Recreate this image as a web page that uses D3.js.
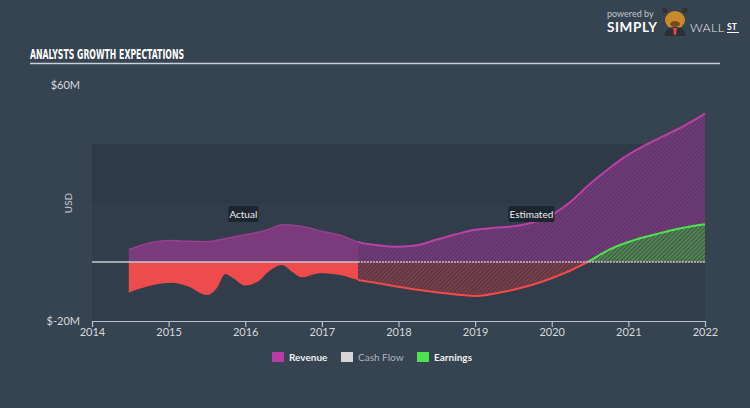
<!DOCTYPE html>
<html><head><meta charset="utf-8">
<script src="https://cdnjs.cloudflare.com/ajax/libs/d3/7.8.5/d3.min.js"></script>
<style>
html,body{margin:0;padding:0;background:#364350;}
svg{display:block;}
</style></head>
<body>
<script>
// ---- data ----
const xTickYears = [2014, 2015, 2016, 2017, 2018, 2019, 2020, 2021, 2022];
const yTickValues = [-20, 60];
const actualEnd = 2017.47;
const revenueDates  = [2014.48, 2014.8, 2015.0, 2015.25, 2015.5, 2015.75, 2016.0, 2016.25, 2016.5, 2016.75, 2017.0, 2017.25, 2017.47, 2017.75, 2018.0, 2018.25, 2018.5, 2018.75, 2019.0, 2019.25, 2019.5, 2019.75, 2020.0, 2020.25, 2020.5, 2020.75, 2021.0, 2021.25, 2021.5, 2021.75, 2022.0];
const revenueValues = [4.2, 6.7, 7.3, 7.0, 6.9, 8.0, 9.2, 10.6, 12.6, 12.0, 10.4, 9.0, 6.8, 5.6, 5.2, 5.7, 7.6, 9.4, 10.9, 11.6, 12.1, 13.4, 16.0, 20.5, 26.5, 31.8, 36.4, 40.0, 43.2, 46.5, 50.3];
const earningsDates  = [2014.48, 2014.83, 2015.03, 2015.25, 2015.5, 2015.63, 2015.74, 2015.84, 2016.0, 2016.16, 2016.33, 2016.48, 2016.61, 2016.74, 2016.97, 2017.24, 2017.47, 2017.7, 2018.0, 2018.57, 2019.0, 2019.43, 2020.0, 2020.47, 2020.75, 2021.0, 2021.4, 2021.7, 2022.0];
const earningsValues = [-10.3, -7.6, -7.0, -8.2, -11.2, -8.8, -4.1, -5.4, -8.0, -6.7, -2.7, -1.0, -3.3, -5.2, -3.8, -4.4, -6.1, -7.0, -8.4, -10.5, -11.5, -9.8, -5.5, 0, 4.2, 6.8, 9.7, 11.5, 12.8];
const legendItems = ["Revenue", "Cash Flow", "Earnings"];
const legendColors = ["#b83ca3", "#d6d6d6", "#4ee24e"];

const W = 750, H = 408;
const svg = d3.select("body").append("svg").attr("width", W).attr("height", H);
svg.append("rect").attr("width", W).attr("height", H).attr("fill", "#364350");

const x = d3.scaleLinear().domain([2014, 2022]).range([92, 705]);
const y = d3.scaleLinear().domain([-20, 60]).range([321, 85]);

const defs = svg.append("defs");
function hatch(id, bg, stripe, sw) {
  const p = defs.append("pattern").attr("id", id).attr("patternUnits", "userSpaceOnUse")
    .attr("width", 3).attr("height", 3).attr("patternTransform", "rotate(45)");
  p.append("rect").attr("width", 3).attr("height", 3).attr("fill", bg);
  p.append("line").attr("x1", 1).attr("y1", 0).attr("x2", 1).attr("y2", 3)
    .attr("stroke", stripe).attr("stroke-width", sw);
}
hatch("hRev", "#5c3466", "#7e4084", 1.2);
hatch("hNeg", "#54343f", "#8e4652", 1.2);
hatch("hPos", "#3d5644", "#5fa45f", 1.2);

function clip(id, x0, x1, y0, y1) {
  defs.append("clipPath").attr("id", id).append("rect")
    .attr("x", x0).attr("y", y0).attr("width", x1 - x0).attr("height", y1 - y0);
}
clip("cAct", 0, x(actualEnd), 0, H);
clip("cEst", x(actualEnd), W, 0, H);
clip("cPos", 0, W, 0, y(0));
clip("cNeg", 0, W, y(0), H);

// plot background bands
svg.append("rect").attr("x", x(2014)).attr("width", x(2022) - x(2014))
  .attr("y", y(20)).attr("height", y(-20) - y(20)).attr("fill", "#313d4a");
svg.append("rect").attr("x", x(2014)).attr("width", x(2022) - x(2014))
  .attr("y", y(40)).attr("height", y(20) - y(40)).attr("fill", "#2e3a46");

const rev = revenueDates.map((d, i) => [d, revenueValues[i]]);
const earn = earningsDates.map((d, i) => [d, earningsValues[i]]);
const curve = d3.curveMonotoneX;
const area = d3.area().x(d => x(d[0])).y0(y(0)).y1(d => y(d[1])).curve(curve);
const line = d3.line().x(d => x(d[0])).y(d => y(d[1])).curve(curve);

// revenue
svg.append("path").attr("d", area(rev)).attr("fill", "#7b3a7b").attr("clip-path", "url(#cAct)");
svg.append("path").attr("d", line(rev)).attr("fill", "none").attr("stroke", "#96408f").attr("stroke-width", 1.5).attr("clip-path", "url(#cAct)");
svg.append("path").attr("d", area(rev)).attr("fill", "url(#hRev)").attr("clip-path", "url(#cEst)");
svg.append("path").attr("d", line(rev)).attr("fill", "none").attr("stroke", "#bd40a8").attr("stroke-width", 2).attr("clip-path", "url(#cEst)");

// earnings
const gNeg = svg.append("g").attr("clip-path", "url(#cNeg)");
gNeg.append("path").attr("d", area(earn)).attr("fill", "#ee4c4c").attr("clip-path", "url(#cAct)");
gNeg.append("path").attr("d", area(earn)).attr("fill", "url(#hNeg)").attr("clip-path", "url(#cEst)");
gNeg.append("path").attr("d", line(earn)).attr("fill", "none").attr("stroke", "#f04a4a").attr("stroke-width", 2).attr("clip-path", "url(#cEst)");
const gPos = svg.append("g").attr("clip-path", "url(#cPos)");
gPos.append("path").attr("d", area(earn)).attr("fill", "url(#hPos)").attr("clip-path", "url(#cEst)");
gPos.append("path").attr("d", line(earn)).attr("fill", "none").attr("stroke", "#4fe24f").attr("stroke-width", 2).attr("clip-path", "url(#cEst)");

// zero line
svg.append("line").attr("x1", x(2014)).attr("x2", x(actualEnd)).attr("y1", y(0)).attr("y2", y(0))
  .attr("stroke", "#c3cad1").attr("stroke-width", 1.5);
svg.append("line").attr("x1", x(actualEnd)).attr("x2", x(2022)).attr("y1", y(0)).attr("y2", y(0))
  .attr("stroke", "#d8b9c6").attr("stroke-width", 1.5).attr("stroke-dasharray", "2,1");

// x axis
const xAxis = svg.append("g").attr("transform", `translate(0,${y(-20)})`)
  .call(d3.axisBottom(x).tickValues(xTickYears).tickFormat(d3.format("d")).tickSize(6).tickSizeOuter(0).tickPadding(1));
xAxis.select(".domain").attr("stroke", "#b9c2cb").attr("stroke-width", 1.2);
xAxis.selectAll(".tick line").attr("stroke", "#b9c2cb").attr("stroke-width", 1.2);
xAxis.selectAll("text").attr("fill", "#d5dadf").style("font", "11px Lato, 'Open Sans', sans-serif");

// y axis labels
const yAxis = svg.append("g").attr("transform", "translate(82,0)")
  .call(d3.axisLeft(y).tickValues(yTickValues).tickFormat(d => "$" + d + "M").tickSize(0).tickPadding(2));
yAxis.select(".domain").remove();
yAxis.selectAll("text").attr("fill", "#d5dadf").style("font", "11px Lato, 'Open Sans', sans-serif");

svg.append("text").attr("transform", "translate(72,203) rotate(-90)").attr("text-anchor", "middle")
  .attr("fill", "#c9cfd5").style("font", "10px Lato, 'Open Sans', sans-serif").text("USD");

// actual / estimated labels
function tag(cx, label, w) {
  svg.append("rect").attr("x", cx - w / 2).attr("y", 206).attr("width", w).attr("height", 16).attr("rx", 2)
    .attr("fill", "#1d252f");
  svg.append("text").attr("x", cx).attr("y", 218).attr("text-anchor", "middle").attr("fill", "#eef0f2")
    .style("font", "10px Lato, 'Open Sans', sans-serif").text(label);
}
tag((x(revenueDates[0]) + x(actualEnd)) / 2, "Actual", 30);
tag((x(actualEnd) + x(2022)) / 2, "Estimated", 46);

// title
svg.append("text").attr("x", 30).attr("y", 59).attr("fill", "#ffffff")
  .attr("textLength", 154).attr("lengthAdjust", "spacingAndGlyphs")
  .style("font", "bold 14px 'Liberation Sans Narrow', 'DejaVu Sans Condensed', sans-serif").text("ANALYSTS GROWTH EXPECTATIONS");
svg.append("line").attr("x1", 30).attr("x2", 720).attr("y1", 63.5).attr("y2", 63.5).attr("stroke", "#c8d2db").attr("stroke-width", 1.5);

// legend
const lg = svg.append("g");
const lx = [272, 341, 417];
legendItems.forEach((t, i) => {
  lg.append("rect").attr("x", lx[i]).attr("y", 352).attr("width", 12).attr("height", 10).attr("fill", legendColors[i]);
  lg.append("text").attr("x", lx[i] + 17).attr("y", 361).attr("fill", i === 1 ? "#aeb5bd" : "#eef0f2")
    .style("font", (i === 1 ? "" : "bold ") + "10px Lato, 'Open Sans', sans-serif").text(t);
});

// logo
const logo = svg.append("g");
logo.append("text").attr("x", 607).attr("y", 17).attr("fill", "#bfc6cd").style("font", "9px Lato, sans-serif").text("powered by");
logo.append("text").attr("x", 607).attr("y", 32).attr("fill", "#ffffff").style("font", "bold 13.5px Lato, sans-serif").attr("letter-spacing", 0.6).text("SIMPLY");
logo.append("path").attr("d", "M663,13 Q661,7 666,8 L668,13 Z M687,13 Q689,7 684,8 L682,13 Z").attr("fill", "#3b3028");
logo.append("ellipse").attr("cx", 675).attr("cy", 20).attr("rx", 10).attr("ry", 9).attr("fill", "#c98a2c");
logo.append("path").attr("d", "M664,36 Q666,27 675,27 Q684,27 686,36 Z").attr("fill", "#2b2f36");
logo.append("path").attr("d", "M673,28 L677,28 L676,35 L674,35 Z").attr("fill", "#e04a3a");
logo.append("ellipse").attr("cx", 675).attr("cy", 24).attr("rx", 5).attr("ry", 3).attr("fill", "#7a4a22");
logo.append("text").attr("x", 690).attr("y", 32).attr("fill", "#e9edf0").style("font", "300 12.5px Lato, sans-serif").attr("letter-spacing", 0.3).text("WALL");
logo.append("text").attr("x", 727).attr("y", 30).attr("fill", "#ffffff").style("font", "bold 8.5px Lato, sans-serif").text("ST");
logo.append("line").attr("x1", 727).attr("x2", 739).attr("y1", 32.5).attr("y2", 32.5).attr("stroke", "#ffffff").attr("stroke-width", 1);
</script>
</body></html>
